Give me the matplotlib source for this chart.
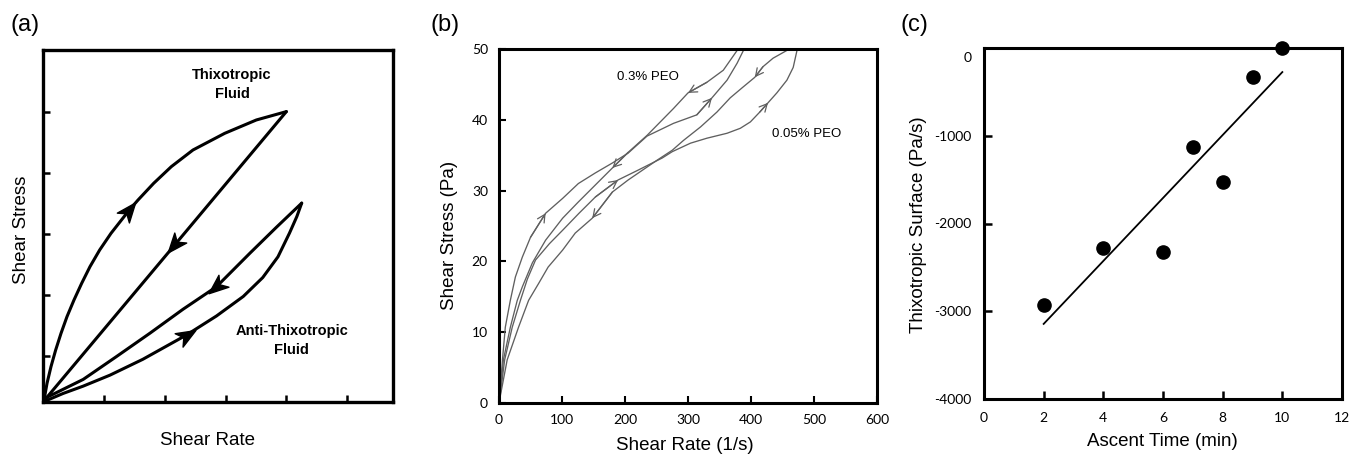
import numpy as np
import matplotlib
matplotlib.use("Agg")
import matplotlib.pyplot as plt
from matplotlib.path import Path
from matplotlib.markers import MarkerStyle
from matplotlib.transforms import Affine2D, ScaledTranslation

plt.rcParams['font.family'] = ['Liberation Sans', 'DejaVu Sans']
plt.rcParams['axes.unicode_minus'] = False

# ---------------- Panel (a) schematic curves ----------------
thixo_up_x = [0, 0.027, 0.066, 0.131, 0.208, 0.296, 0.394, 0.509, 0.635, 0.772, 0.931, 1.117,
              1.42, 1.561, 1.818, 2.108, 2.464, 2.985, 3.505, 3.998]
thixo_up_y = [0, 0.087, 0.306, 0.579, 0.852, 1.126, 1.399, 1.672, 1.945, 2.219, 2.492, 2.765,
              3.15, 3.311, 3.585, 3.858, 4.131, 4.404, 4.623, 4.760]
thixo_down_x = [3.998, 2.16, 0]
thixo_down_y = [4.760, 2.57, 0]
anti_down_x = [4.25, 3.83, 3.40, 2.85, 2.30, 1.76, 1.20, 0.66, 0.03, 0]
anti_down_y = [3.26, 2.86, 2.44, 1.89, 1.52, 1.13, 0.74, 0.37, 0.06, 0]
anti_up_x = [0, 0.33, 0.66, 1.10, 1.64, 2.36, 2.85, 3.29, 3.61, 3.86, 4.05, 4.17, 4.25]
anti_up_y = [0, 0.14, 0.26, 0.44, 0.70, 1.10, 1.41, 1.73, 2.04, 2.38, 2.77, 3.04, 3.26]

# ---------------- Panel (b) hysteresis loops ----------------
peo03_up_x = [1, 5.5, 10, 18, 26, 37, 50, 74, 101, 126, 153, 180, 205, 235, 277, 314, 338, 362, 378, 388]
peo03_up_y = [0.5, 6.1, 10.7, 14.5, 17.8, 20.6, 23.4, 26.8, 28.9, 31.0, 32.5, 33.9, 35.3, 37.7, 39.5, 40.7, 43.1, 45.6, 48.0, 49.8]
peo03_down_x = [378, 356, 330, 300, 277, 256, 235, 205, 180, 153, 126, 101, 74, 53, 37, 29, 18, 7, 1]
peo03_down_y = [49.8, 47.0, 45.3, 43.8, 41.6, 39.7, 37.8, 35.4, 33.2, 30.8, 28.4, 26.1, 23.0, 19.8, 16.4, 14.5, 10.7, 6.1, 0.5]
peo005_up_x = [1, 9, 21, 34, 45, 58, 80, 101, 127, 153, 189, 221, 259, 275, 304, 330, 362, 383, 399, 414, 427, 441, 457, 467, 473]
peo005_up_y = [0.5, 6.1, 10.7, 14.5, 17.5, 20.2, 22.5, 24.4, 26.8, 29.1, 31.5, 32.9, 34.6, 35.5, 36.7, 37.4, 38.1, 38.8, 39.7, 41.1, 42.4, 43.8, 45.6, 47.4, 49.8]
peo005_down_x = [457, 435, 419, 406, 387, 367, 346, 320, 293, 275, 251, 228, 205, 180, 148, 121, 101, 78, 63, 47, 31, 13, 1]
peo005_down_y = [49.8, 48.7, 47.5, 46.0, 44.6, 43.1, 41.1, 39.0, 37.1, 35.7, 34.3, 32.9, 31.5, 29.8, 26.1, 24.0, 21.6, 19.2, 16.9, 14.5, 10.7, 6.1, 0.5]

# ---------------- Panel (c) thixotropic surface ----------------
ascent_time = [2, 4, 6, 7, 8, 9, 10]
thixo_surface = [-2930, -2280, -2330, -1130, -1530, -330, 0]

W, H = 1358, 454
fig = plt.figure(figsize=(W / 100, H / 100), dpi=100)


def box(l, r, t, b):
    return [l / W, 1 - b / H, (r - l) / W, (b - t) / H]


def style_spines(ax, lw):
    for s in ax.spines.values():
        s.set_linewidth(lw)
        s.set_color('black')


def stealth(ax, xs, ys, i, size, color):
    p = ax.transData.transform([(xs[i - 1], ys[i - 1]), (xs[i + 1], ys[i + 1])])
    ang = np.degrees(np.arctan2(p[1, 1] - p[0, 1], p[1, 0] - p[0, 0]))
    verts = [(0.5, 0), (-0.5, 0.4), (-0.22, 0), (-0.5, -0.4), (0.5, 0)]
    codes = [Path.MOVETO, Path.LINETO, Path.LINETO, Path.LINETO, Path.CLOSEPOLY]
    m = MarkerStyle(Path(verts, codes), transform=Affine2D().rotate_deg(ang))
    ax.plot([xs[i]], [ys[i]], marker=m, ms=size, color=color, mec=color,
            linestyle='none', zorder=5)


# ===== (a) =====
axA = fig.add_axes(box(43, 393, 50, 402))
axA.set_xlim(0, 5.75)
axA.set_ylim(0, 5.77)
axA.set_xticks([1, 2, 3, 4, 5])
axA.set_yticks([0.75, 1.75, 2.75, 3.75, 4.75])
axA.tick_params(direction='in', length=5, width=1.8, labelbottom=False, labelleft=False)
style_spines(axA, 2.4)
curvesA = [(thixo_up_x, thixo_up_y, 12), (thixo_down_x, thixo_down_y, 1),
           (anti_down_x, anti_down_y, 3), (anti_up_x, anti_up_y, 5)]
for xs, ys, ai in curvesA:
    axA.plot(xs, ys, color='black', lw=2.2, solid_capstyle='round', solid_joinstyle='round')
for xs, ys, ai in curvesA:
    stealth(axA, xs, ys, ai, 14, 'black')
axA.text(0.54, 0.903, 'Thixotropic\nFluid', transform=axA.transAxes, ha='center', va='center',
         fontsize=10.5, fontweight='bold', linespacing=1.45)
axA.text(0.711, 0.176, 'Anti-Thixotropic\nFluid', transform=axA.transAxes, ha='center', va='center',
         fontsize=10.5, fontweight='bold', linespacing=1.45)
axA.set_xlabel('Shear Rate', fontsize=13.5, va='center')
axA.xaxis.set_label_coords(0.471, -0.108)
axA.set_ylabel('Shear Stress', fontsize=13.5, va='center', ha='center')
axA.yaxis.set_label_coords(-0.06, 0.489)

# ===== (b) =====
axB = fig.add_axes(box(499, 877, 49, 403))
axB.set_xlim(0, 600)
axB.set_ylim(0, 50)
axB.set_xticks(np.arange(0, 601, 100))
axB.set_yticks(np.arange(0, 51, 10))
axB.tick_params(direction='in', length=5, width=1.5, pad=8, labelsize=10)
for lab in axB.get_xticklabels() + axB.get_yticklabels():
    lab.set_fontfamily(['Lato', 'DejaVu Sans'])
style_spines(axB, 2.2)
grey = '#5f5f5f'
curvesB = [(peo03_up_x, peo03_up_y, [7, 16]), (peo03_down_x, peo03_down_y, [3, 8]),
           (peo005_up_x, peo005_up_y, [10, 20]), (peo005_down_x, peo005_down_y, [3, 14])]
for xs, ys, arrows in curvesB:
    axB.plot(xs, ys, color=grey, lw=0.95, solid_joinstyle='round')
    for i in arrows:
        axB.annotate('', xy=(xs[i], ys[i]), xytext=(xs[i - 1], ys[i - 1]),
                     arrowprops=dict(arrowstyle='->,head_length=0.55,head_width=0.28',
                                     color=grey, lw=0.9, shrinkA=0, shrinkB=0))
axB.text(188, 46.0, '0.3% PEO', ha='left', va='center', fontsize=9.5)
axB.text(433, 38.0, '0.05% PEO', ha='left', va='center', fontsize=9.5)
axB.set_xlabel('Shear Rate (1/s)', fontsize=13.5, va='center')
axB.xaxis.set_label_coords(0.492, -0.119)
axB.set_ylabel('Shear Stress (Pa)', fontsize=13.5, va='center', ha='center')
axB.yaxis.set_label_coords(-0.130, 0.472)

# ===== (c) =====
axC = fig.add_axes(box(984, 1342, 48, 399))
axC.set_xlim(0, 12)
axC.set_ylim(-4000, 0)
axC.set_xticks(np.arange(0, 13, 2))
axC.set_yticks(np.arange(-4000, 1, 1000))
axC.tick_params(direction='in', length=6, width=1.8, pad=9, labelsize=10)
for lab in axC.get_xticklabels() + axC.get_yticklabels():
    lab.set_fontfamily(['Lato', 'DejaVu Sans'])
style_spines(axC, 2.2)
# the "0" label sits a little below the top spine in the original
top_tick = axC.yaxis.get_major_ticks()[-1]
top_tick.label1.set_transform(top_tick.label1.get_transform()
                              + ScaledTranslation(0, -0.09, fig.dpi_scale_trans))
slope, intercept = np.polyfit(ascent_time, thixo_surface, 1)
fit_x = np.array([ascent_time[0], ascent_time[-1]])
axC.plot(fit_x, slope * fit_x + intercept, color='black', lw=1.3)
axC.plot(ascent_time, thixo_surface, 'o', color='black', ms=9.5, clip_on=False, zorder=5)
axC.set_xlabel('Ascent Time (min)', fontsize=13.5, va='center')
axC.xaxis.set_label_coords(0.497, -0.1225)
axC.set_ylabel('Thixotropic Surface (Pa/s)', fontsize=13.5, va='center', ha='center')
axC.yaxis.set_label_coords(-0.184, 0.496)

# panel letters
for lx, letter in [(10, '(a)'), (430, '(b)'), (900, '(c)')]:
    fig.text(lx / W, 1 - 25 / H, letter, fontsize=17, ha='left', va='center')

fig.savefig('out.png', dpi=100)
